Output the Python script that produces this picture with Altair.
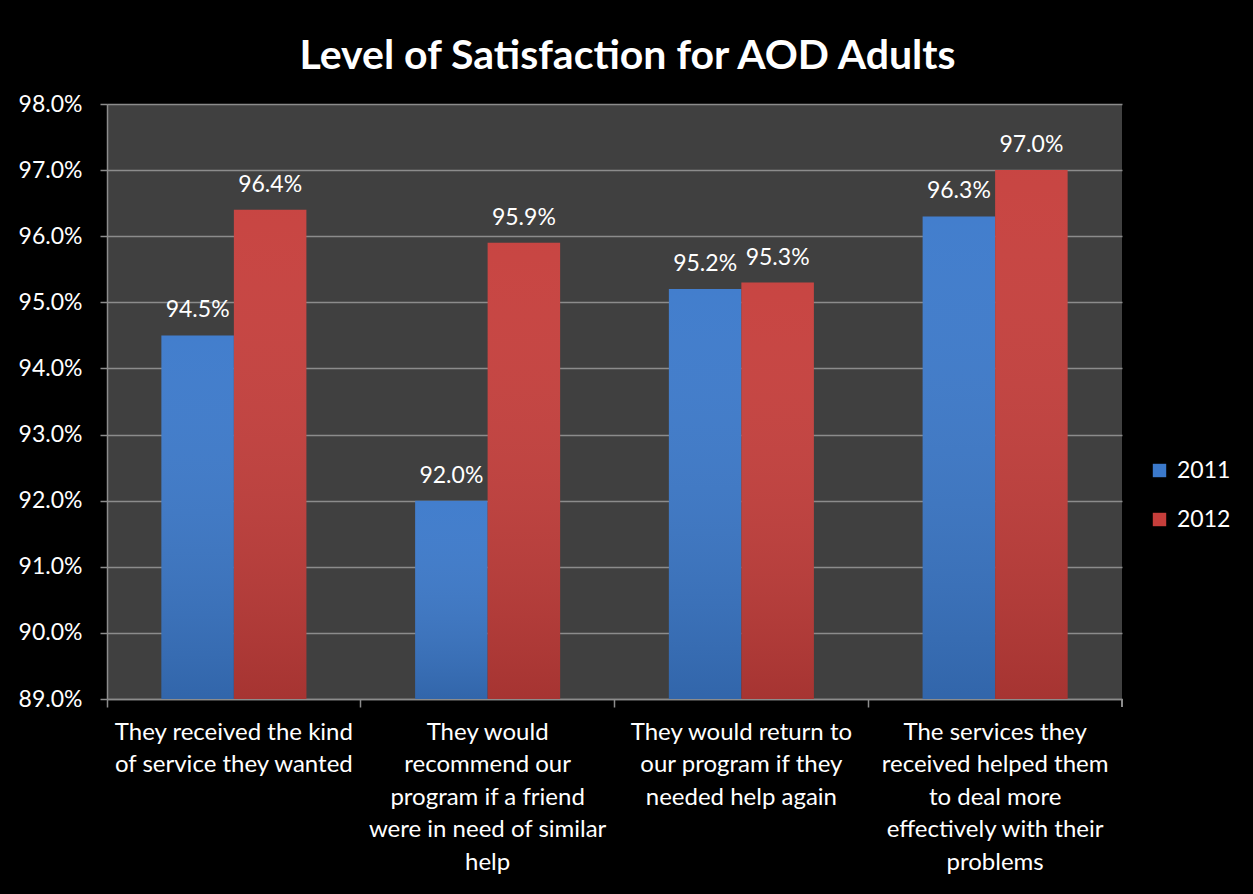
import json
import altair as alt
import pandas as pd

categories = [
    "They received the kind of service they wanted",
    "They would recommend our program if a friend were in need of similar help",
    "They would return to our program if they needed help again",
    "The services they received helped them to deal more effectively with their problems",
]
label_lines = [
    ["They received the kind", "of service they wanted"],
    ["They would", "recommend our", "program if a friend", "were in need of similar", "help"],
    ["They would return to", "our program if they", "needed help again"],
    ["The services they", "received helped them", "to deal more", "effectively with their", "problems"],
]
years = ["2011", "2012"]
values_2011 = [94.5, 92.0, 95.2, 96.3]
values_2012 = [96.4, 95.9, 95.3, 97.0]
y_ticks = [89, 90, 91, 92, 93, 94, 95, 96, 97, 98]
colors = ["#3b79cb", "#c63e3b"]

rows = []
for c, a, b in zip(categories, values_2011, values_2012):
    rows.append({"category": c, "year": "2011", "value": a})
    rows.append({"category": c, "year": "2012", "value": b})
df = pd.DataFrame(rows)

W, H = 1015, 595
FONT = "Lato"
GRID = "#8c8c8c"
FS = 23

expr = "datum.label"
for c, lines in reversed(list(zip(categories, label_lines))):
    expr = f"datum.label == {json.dumps(c)} ? {json.dumps(lines)} : ({expr})"

x_enc = alt.X(
    "category:N", sort=categories, title=None,
    scale=alt.Scale(paddingInner=0, paddingOuter=0),
    axis=alt.Axis(
        bandPosition=0, labelAngle=0, labelExpr=expr,
        labelFontSize=24, labelColor="white", labelFont=FONT, labelPadding=13,
        labelLineHeight=32.5, labelBaseline="top", labelLimit=300,
        domainColor=GRID, tickColor=GRID, tickSize=8, domainWidth=1.5, tickWidth=1.5,
    ),
)
xoff = alt.XOffset("year:N", sort=years, scale=alt.Scale(paddingOuter=0.75, paddingInner=0))
y_enc = alt.Y(
    "value:Q", title=None,
    scale=alt.Scale(domain=[89, 98], nice=False, zero=False),
    axis=alt.Axis(
        values=y_ticks, labelExpr="format(datum.value, '.1f') + '%'",
        labelFontSize=FS, labelColor="white", labelFont=FONT, labelPadding=18,
        grid=True, gridColor=GRID, gridWidth=1.5, domainColor=GRID, domainWidth=1.5,
        tickColor=GRID, tickSize=7, tickWidth=1.5,
    ),
)

base = alt.Chart(df)

bars = base.mark_bar().encode(
    x=x_enc, xOffset=xoff, y=y_enc, y2=alt.datum(89),
    color=alt.Color(
        "year:N", sort=years,
        scale=alt.Scale(domain=years, range=colors),
        legend=alt.Legend(
            orient="none", legendX=1041, legendY=355, title=None,
            symbolType="square", symbolSize=180, symbolStrokeWidth=0,
            labelFontSize=FS, labelColor="white", labelFont=FONT, rowPadding=25,
            labelOffset=6,
        ),
    ),
)

shade = base.mark_bar(
    fill=alt.Gradient(
        gradient="linear", x1=0, x2=0, y1=0, y2=1,
        stops=[
            alt.GradientStop(color="rgba(255,255,255,0.04)", offset=0),
            alt.GradientStop(color="rgba(0,0,0,0.16)", offset=1),
        ],
    )
).encode(x=x_enc, xOffset=xoff, y=y_enc, y2=alt.datum(89))

labels = base.transform_calculate(
    lbl="format(datum.value, '.1f') + '%'"
).mark_text(
    dy=-25, fontSize=FS, color="white", font=FONT, baseline="middle"
).encode(x=x_enc, xOffset=xoff, y=y_enc, text="lbl:N")

end_tick = alt.Chart(df).mark_rule(color=GRID, strokeWidth=1.5).encode(
    x=alt.value(W), y=alt.value(H), y2=alt.value(H + 8)
)

chart = alt.layer(bars, shade, labels, end_tick).properties(
    width=W, height=H,
    autosize="none",
    padding={"left": 107, "top": 104, "right": 131, "bottom": 195},
    title=alt.TitleParams(
        "Level of Satisfaction for AOD Adults", fontSize=41, font=FONT,
        fontWeight="bold", color="white", anchor="middle", frame="group",
        dx=13, offset=15,
    ),
).configure(background="black", font=FONT).configure_view(fill="#404040", stroke=None)

chart.save("out.html", embed_options={"renderer": "svg", "actions": False})
